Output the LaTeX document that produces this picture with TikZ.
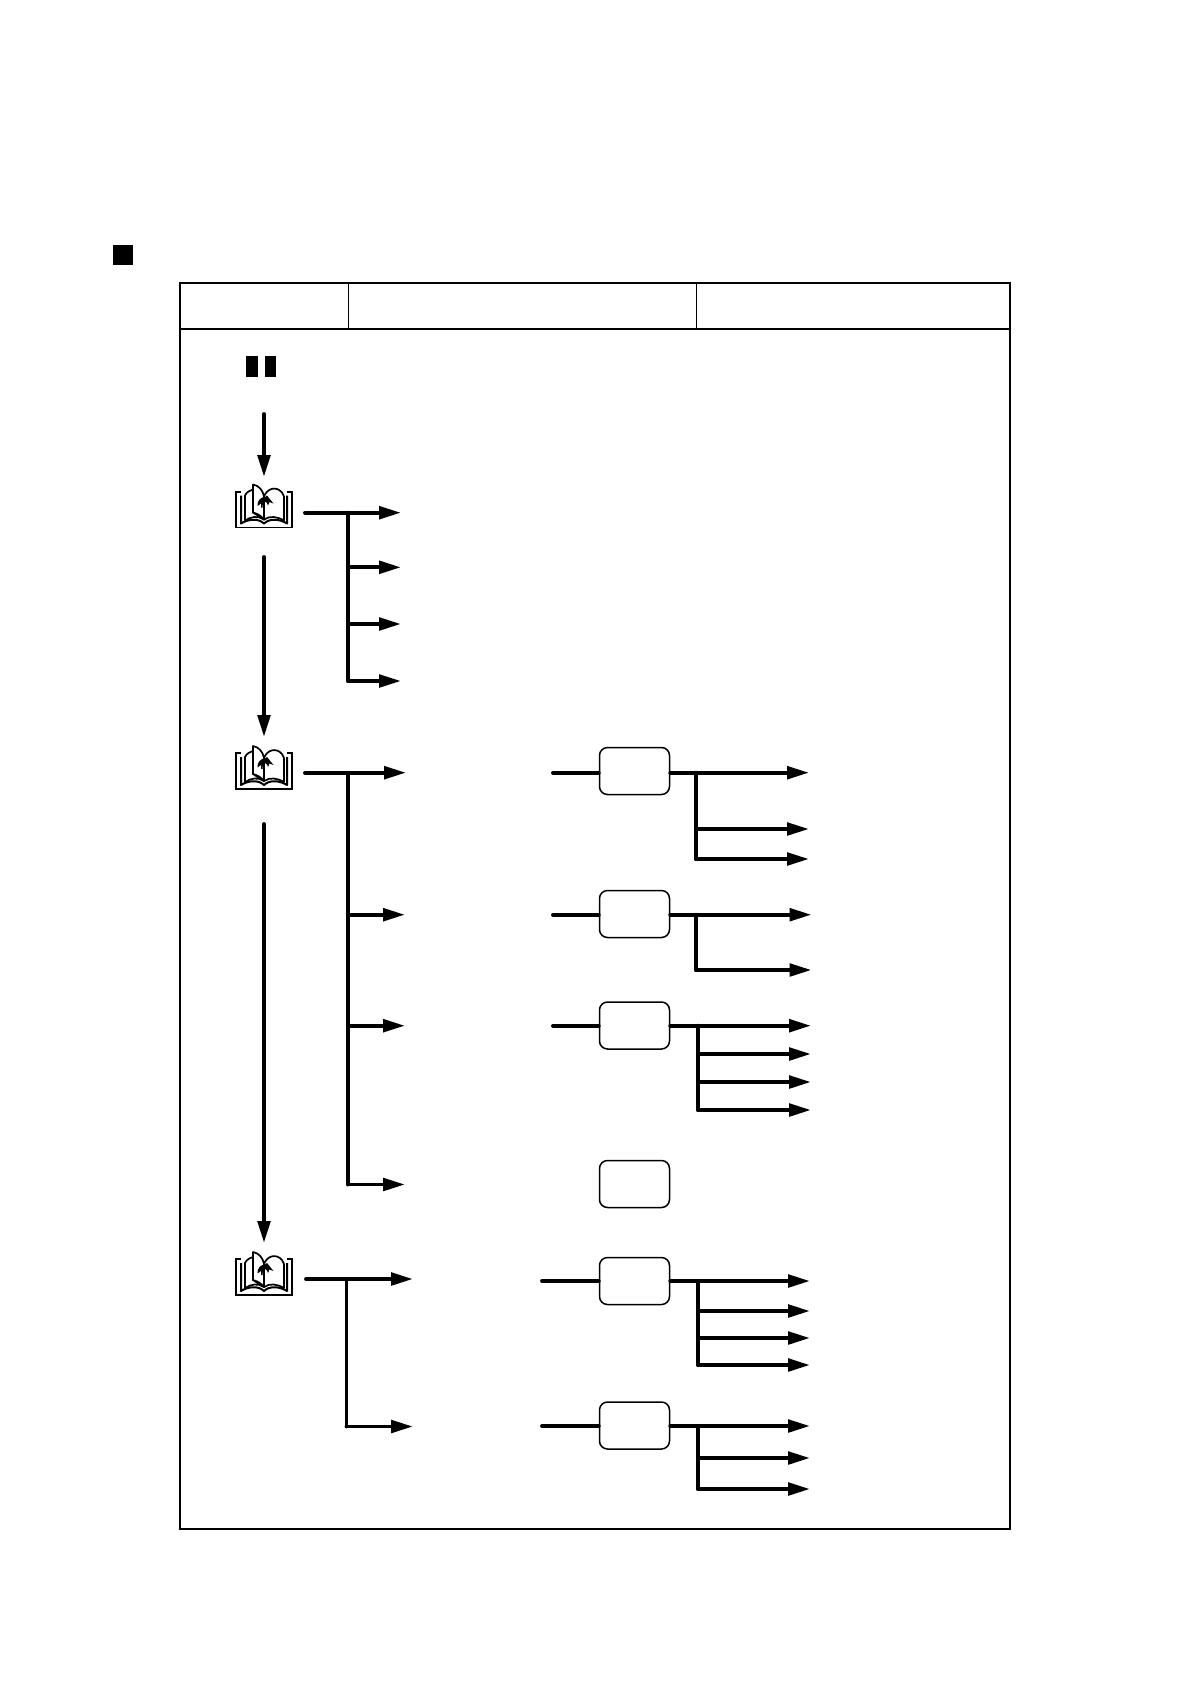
\documentclass[tikz,border=0pt]{standalone}
\usetikzlibrary{arrows.meta}
\tikzset{
  x=1pt,y=-1pt,
  flow/.style={line width=3.9pt,line cap=round,line join=round},
  flowarrow/.style={flow,-{Triangle[length=22pt,width=12.5pt]}},
  frame/.style={draw,line width=1.6pt},
  optionbox/.style={draw,line width=1.5pt,rounded corners=8pt,minimum width=70pt,minimum height=47pt,inner sep=0pt},
  pic1/.style={line width=1.7pt,line join=round},
  bookicon/.pic={
    % coordinates relative to the centre of the outer frame
    \draw[line width=1.6pt] (-28,-17.8) rectangle (28,17.8);
    \fill[white] (-23,-19) rectangle (23,13);
    % outer pages
    \draw[pic1,line width=2pt] (-23,-14) -- (-23,14) .. controls (-15,9) and (-5,9) .. (0,14)
      .. controls (5,9) and (15,9) .. (23,14) -- (23,-14);
    % open pages
    \draw[pic1,fill=white] (-19,11) -- (-19,-14) .. controls (-17,-18) and (-14,-19) .. (-11,-20)
      -- (-11,3) -- (0,10) .. controls (-6,6) and (-13,7) .. (-19,11) -- cycle;
    \draw[pic1,fill=white] (0,10) -- (0,-13) .. controls (3,-21) and (12,-24) .. (18,-17)
      -- (20,-13) -- (20,11) .. controls (13,7) and (6,6) .. (0,10) -- cycle;
    % turned leaf
    \draw[pic1,fill=white] (-11,-25) .. controls (-5,-24) and (-1,-19) .. (0,-13)
      -- (0,10) .. controls (-3,6) and (-7,4) .. (-11,3) -- cycle;
    % turning arrow
    \fill (-6.5,-3.5) .. controls (-7,-9) and (-3,-12.5) .. (1,-12.5) -- (3,-14) -- (9.5,-6) -- (5.5,-7.5) -- (4,-4)
      .. controls (3,-8) and (1,-8.5) .. (-1,-7.5) -- (-1.5,-2) -- (-3,-2) -- (-3,-6) -- cycle;
  }
}
\begin{document}
\begin{tikzpicture}
\useasboundingbox (0,0) rectangle (1191,1684);
\fill[white] (0,0) rectangle (1191,1684);
% heading mark
\node[fill=black,minimum size=20pt,inner sep=0pt] (mark) at (123,255) {};
% table frame
\draw[frame] (180,283) rectangle (1010,1529);
\draw[frame] (180,329) -- (1010,329);
\draw[line width=1.6pt] (348.5,283) -- (348.5,329);
\draw[line width=1.6pt] (696.5,283) -- (696.5,329);
% pause mark
\node[fill=black,minimum width=12pt,minimum height=21pt,inner sep=0pt] (barA) at (252,366.5) {};
\node[fill=black,minimum width=11pt,minimum height=21pt,inner sep=0pt] (barB) at (270.5,366.5) {};
% books
\coordinate (bookA) at (264,509.5);
\coordinate (bookB) at (264,771);
\coordinate (bookC) at (264,1277);
\pic at (bookA) {bookicon};
\pic at (bookB) {bookicon};
\pic at (bookC) {bookicon};
% main vertical arrows
\coordinate (v1a) at (264,414); \coordinate (v1b) at (264,477);
\coordinate (v2a) at (264,557); \coordinate (v2b) at (264,737);
\coordinate (v3a) at (264,824); \coordinate (v3b) at (264,1243);
\draw[flowarrow] (v1a) -- (v1b);
\draw[flowarrow] (v2a) -- (v2b);
\draw[flowarrow] (v3a) -- (v3b);
% section A
\coordinate (a0) at (305,512.7); \coordinate (aj) at (348,512.7);
\coordinate (a1) at (401,512.7); \coordinate (a2) at (401,567.3);
\coordinate (a3) at (401,624); \coordinate (a4) at (401,681);
\draw[flowarrow] (a0) -- (a1);
\draw[flow] (aj) -- (aj |- a4);
\draw[flowarrow] (aj |- a2) -- (a2);
\draw[flowarrow] (aj |- a3) -- (a3);
\draw[flowarrow] (aj |- a4) -- (a4);
% section B
\coordinate (b0) at (305,772.7); \coordinate (bj) at (348,772.7);
\coordinate (b1) at (406,772.7); \coordinate (b2) at (405,914.7);
\coordinate (b3) at (405,1025.7); \coordinate (b4) at (405,1184.5);
\draw[flowarrow] (b0) -- (b1);
\draw[flow] (bj) -- (bj |- b4);
\draw[flowarrow] (bj |- b2) -- (b2);
\draw[flowarrow] (bj |- b3) -- (b3);
\draw[flowarrow] (bj |- b4) -- (b4);
% section C
\coordinate (c0) at (306,1279); \coordinate (cj) at (346.5,1279);
\coordinate (c1) at (413,1279); \coordinate (c2) at (413,1426.5);
\draw[flowarrow] (c0) -- (c1);
\draw[flow] (cj) -- (cj |- c2);
\draw[flowarrow] (cj |- c2) -- (c2);
% option boxes
\node[optionbox] (o1) at (634.5,771) {};
\node[optionbox] (o2) at (634.5,914) {};
\node[optionbox] (o3) at (634.5,1025.5) {};
\node[optionbox] (o4) at (634.5,1184) {};
\node[optionbox] (o5) at (634.5,1281) {};
\node[optionbox] (o6) at (634.5,1425.5) {};
% box 1
\coordinate (i1) at (553,772.7);
\draw[flow] (i1) -- (o1.west |- i1);
\coordinate (r1a) at (809,772.7); \coordinate (r1b) at (809,829); \coordinate (r1c) at (809,859);
\coordinate (j1) at (696,772.7);
\draw[flowarrow] (o1.east |- r1a) -- (r1a);
\draw[flow] (j1) -- (j1 |- r1c);
\draw[flowarrow] (j1 |- r1b) -- (r1b);
\draw[flowarrow] (j1 |- r1c) -- (r1c);
% box 2
\coordinate (i2) at (553,914.7);
\draw[flow] (i2) -- (o2.west |- i2);
\coordinate (r2a) at (811.5,914.7); \coordinate (r2b) at (811.5,970);
\coordinate (j2) at (696,914.7);
\draw[flowarrow] (o2.east |- r2a) -- (r2a);
\draw[flow] (j2) -- (j2 |- r2b);
\draw[flowarrow] (j2 |- r2b) -- (r2b);
% box 3
\coordinate (i3) at (553,1025.7);
\draw[flow] (i3) -- (o3.west |- i3);
\coordinate (r3a) at (811,1025.7); \coordinate (r3b) at (811,1054);
\coordinate (r3c) at (811,1082); \coordinate (r3d) at (811,1110);
\coordinate (j3) at (698,1025.7);
\draw[flowarrow] (o3.east |- r3a) -- (r3a);
\draw[flow] (j3) -- (j3 |- r3d);
\draw[flowarrow] (j3 |- r3b) -- (r3b);
\draw[flowarrow] (j3 |- r3c) -- (r3c);
\draw[flowarrow] (j3 |- r3d) -- (r3d);
% box 5
\coordinate (i5) at (542,1281);
\draw[flow] (i5) -- (o5.west |- i5);
\coordinate (r5a) at (810,1281); \coordinate (r5b) at (810,1311);
\coordinate (r5c) at (810,1338); \coordinate (r5d) at (810,1365);
\coordinate (j5) at (698,1281);
\draw[flowarrow] (o5.east |- r5a) -- (r5a);
\draw[flow] (j5) -- (j5 |- r5d);
\draw[flowarrow] (j5 |- r5b) -- (r5b);
\draw[flowarrow] (j5 |- r5c) -- (r5c);
\draw[flowarrow] (j5 |- r5d) -- (r5d);
% box 6
\coordinate (i6) at (542,1426);
\draw[flow] (i6) -- (o6.west |- i6);
\coordinate (r6a) at (810,1426); \coordinate (r6b) at (810,1458); \coordinate (r6c) at (810,1489);
\coordinate (j6) at (698,1426);
\draw[flowarrow] (o6.east |- r6a) -- (r6a);
\draw[flow] (j6) -- (j6 |- r6c);
\draw[flowarrow] (j6 |- r6b) -- (r6b);
\draw[flowarrow] (j6 |- r6c) -- (r6c);
\end{tikzpicture}
\end{document}
